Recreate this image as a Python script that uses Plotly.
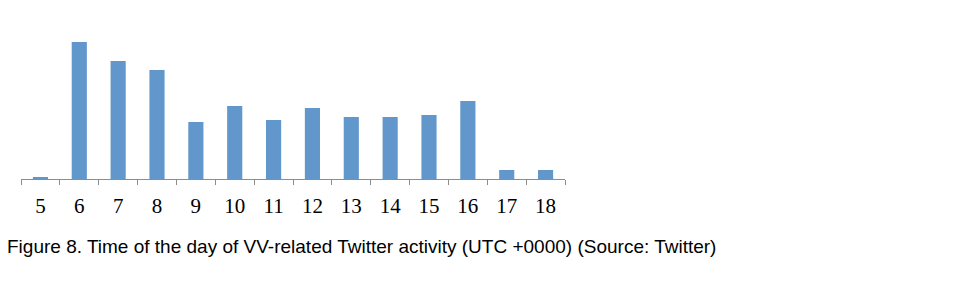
import plotly.graph_objects as go

hours = [5, 6, 7, 8, 9, 10, 11, 12, 13, 14, 15, 16, 17, 18]
activity = [2, 137, 118, 109, 57, 73, 59, 71, 62, 62, 64, 78, 9, 9]
caption = "Figure 8. Time of the day of VV-related Twitter activity (UTC +0000) (Source: Twitter)"

W, H = 960, 297
L, R, T, B = 21, 395, 20, 118

labels = [str(h) for h in hours]
fig = go.Figure()
fig.add_trace(go.Bar(x=labels, y=activity, marker=dict(color="#6297CB", line=dict(width=0)),
                     width=0.39))
fig.update_layout(
    width=W, height=H,
    margin=dict(l=L, r=R, t=T, b=B),
    paper_bgcolor="white", plot_bgcolor="white",
    showlegend=False,
    xaxis=dict(type="category", range=[-0.5, len(hours) - 0.5], tickson="boundaries",
               showgrid=False, zeroline=False, showline=True, linecolor="#8c8c8c", linewidth=1,
               ticks="outside", ticklen=5, tickcolor="#8c8c8c", ticklabelstandoff=8,
               tickfont=dict(family="Liberation Serif", size=21, color="black")),
    yaxis=dict(range=[0, 159], visible=False, showgrid=False, zeroline=False),
    annotations=[dict(text=caption, xref="paper", yref="paper", x=(5 - L) / (W - L - R), y=0,
                      xanchor="left", yanchor="middle", yshift=-(246 - (H - B)), showarrow=False,
                      font=dict(family="Liberation Sans", size=19, color="black"))],
)
fig.write_html("out.html")
